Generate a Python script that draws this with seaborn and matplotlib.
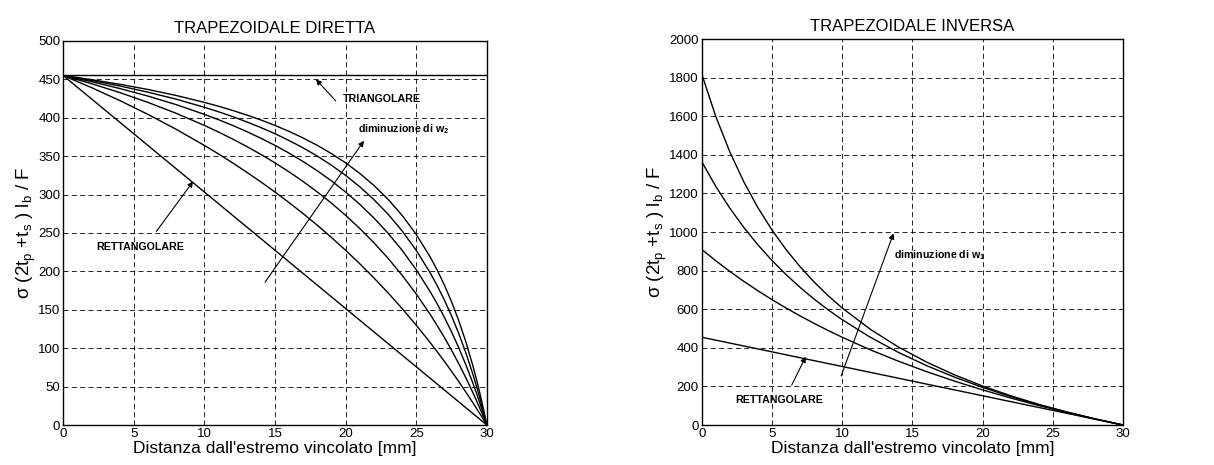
import numpy as np
import pandas as pd
import matplotlib
matplotlib.use("Agg")
import matplotlib.pyplot as plt
import seaborn as sns

# ---------------- data: left panel (TRAPEZOIDALE DIRETTA) ----------------
x_dir = [0, 2, 4, 6, 8, 10, 11, 12, 13, 14, 15, 16, 17, 18, 19, 20, 21, 22, 23, 24, 25, 26,
         26.5, 27, 27.5, 28, 28.5, 29, 29.25, 29.5, 29.75, 30]
dir_w2_a = [455, 449.6, 443.6, 436.8, 429.0, 420.0, 415.0, 409.5, 403.6, 397.1, 390.0, 382.2,
            373.6, 364.0, 353.3, 341.3, 327.6, 312.0, 294.0, 273.0, 248.2, 218.4,
            201.2, 182.0, 160.6, 136.5, 109.2, 78.0, 60.7, 42.0, 21.8, 0]
dir_w2_b = [455, 448.6, 441.4, 433.3, 424.2, 413.6, 407.8, 401.5, 394.6, 387.2, 379.2, 370.3,
            360.7, 350.0, 338.2, 325.0, 310.2, 293.5, 274.6, 252.8, 227.5, 197.8,
            181.0, 162.5, 142.2, 119.7, 94.8, 66.9, 51.7, 35.5, 18.3, 0]
dir_w2_c = [455, 447.0, 438.1, 428.2, 417.1, 404.4, 397.5, 390.0, 382.0, 373.3, 364.0, 353.9,
            342.9, 330.9, 317.8, 303.3, 287.4, 269.6, 249.8, 227.5, 202.2, 173.3,
            157.3, 140.0, 121.3, 101.1, 79.1, 55.2, 42.3, 28.9, 14.8, 0]
dir_w2_d = [455, 444.4, 432.8, 420.0, 405.8, 390.0, 381.4, 372.3, 362.6, 352.3, 341.3, 329.5,
            316.9, 303.3, 288.8, 273.0, 255.9, 237.4, 217.2, 195.0, 170.6, 143.7,
            129.1, 113.8, 97.5, 80.3, 62.0, 42.7, 32.5, 22.0, 11.2, 0]
dir_w2_e = [455, 439.3, 422.5, 404.4, 385.0, 364.0, 352.9, 341.3, 329.1, 316.5, 303.3, 289.5,
            275.1, 260.0, 244.1, 227.5, 210.0, 191.6, 172.2, 151.7, 130.0, 107.1,
            95.1, 82.7, 70.0, 56.9, 43.3, 29.4, 22.2, 14.9, 7.5, 0]
x_rett = [0, 30]
dir_rett = [455, 0]
x_tri = [0, 30]
dir_tri = [455, 455]

# ---------------- data: right panel (TRAPEZOIDALE INVERSA) ----------------
x_inv = [0, 1, 2, 3, 4, 5, 6, 7, 8, 9, 10, 12, 14, 16, 18, 20, 22, 24, 26, 28, 30]
inv_w1_a = [1820, 1599.4, 1415.6, 1260.0, 1126.7, 1011.1, 910.0, 820.8, 741.5, 670.5, 606.7,
            496.4, 404.4, 326.7, 260.0, 202.2, 151.7, 107.1, 67.4, 31.9, 0]
inv_w1_b = [1365, 1237.0, 1124.1, 1023.8, 933.9, 853.1, 780.0, 713.5, 652.8, 597.2, 546.0,
            455.0, 376.6, 308.2, 248.2, 195.0, 147.6, 105.0, 66.6, 31.7, 0]
inv_w1_c = [910, 851.3, 796.3, 744.5, 695.9, 650.0, 606.7, 565.7, 526.8, 490.0, 455.0,
            390.0, 330.9, 277.0, 227.5, 182.0, 140.0, 101.1, 65.0, 31.4, 0]
inv_rett = [455, 0]

# ---------------- text ----------------
title_left = "TRAPEZOIDALE DIRETTA"
title_right = "TRAPEZOIDALE INVERSA"
xlabel = "Distanza dall'estremo vincolato [mm]"
ylabel = "σ (2t$_{p}$ +t$_{s}$ ) l$_{b}$ / F"
xticks = [0, 5, 10, 15, 20, 25, 30]
yticks_left = [0, 50, 100, 150, 200, 250, 300, 350, 400, 450, 500]
yticks_right = [0, 200, 400, 600, 800, 1000, 1200, 1400, 1600, 1800, 2000]

sns.set_theme(style="white")
plt.rcParams["font.family"] = ["Liberation Sans", "DejaVu Sans"]
plt.rcParams["mathtext.default"] = "regular"

fig = plt.figure(figsize=(12.14, 4.65), dpi=100)
axL = fig.add_axes([0.052, 0.086, 0.349, 0.826])
axR = fig.add_axes([0.578, 0.086, 0.347, 0.830])

lw = 1.0


def draw(ax, x, y):
    df = pd.DataFrame({"x": x, "y": y})
    sns.lineplot(data=df, x="x", y="y", ax=ax, color="black", lw=lw,
                 estimator=None, sort=False)


for ser in [dir_w2_a, dir_w2_b, dir_w2_c, dir_w2_d, dir_w2_e]:
    draw(axL, x_dir, ser)
draw(axL, x_rett, dir_rett)
draw(axL, x_tri, dir_tri)

for ser in [inv_w1_a, inv_w1_b, inv_w1_c]:
    draw(axR, x_inv, ser)
draw(axR, x_rett, inv_rett)


def style(ax, yticks, title):
    ax.set_xlim(0, 30)
    ax.set_ylim(yticks[0], yticks[-1])
    ax.set_xticks(xticks)
    ax.set_yticks(yticks)
    ax.set_xticklabels([str(t) for t in xticks])
    ax.set_yticklabels([str(t) for t in yticks])
    ax.tick_params(axis="both", direction="in", length=4, width=0.8,
                   labelsize=9.5, colors="black", pad=2)
    ax.grid(True, color="black", linestyle=(0, (6, 4)), linewidth=0.6)
    for s in ax.spines.values():
        s.set_color("black")
        s.set_linewidth(1.0)
    ax.set_title(title, fontsize=12, color="black", pad=6)
    ax.set_xlabel(xlabel, fontsize=12.5, color="black", labelpad=1)
    ax.set_ylabel(ylabel, fontsize=13.5, color="black", labelpad=0)


style(axL, yticks_left, title_left)
style(axR, yticks_right, title_right)

ann_kw = dict(fontsize=7.7, fontweight="bold", color="black")
arrow_kw = dict(arrowstyle="-|>", color="black", lw=0.8, mutation_scale=8, shrinkA=0, shrinkB=0)

# left annotations
axL.annotate("", xy=(17.9, 450), xytext=(19.3, 422), arrowprops=arrow_kw)
axL.text(19.8, 425, "TRIANGOLARE", va="center", ha="left", **ann_kw)
axL.annotate("", xy=(21.3, 370), xytext=(14.3, 186), arrowprops=arrow_kw)
axL.text(20.9, 385, "diminuzione di w$_2$", va="center", ha="left", **ann_kw)
axL.annotate("", xy=(9.2, 317), xytext=(6.6, 252), arrowprops=arrow_kw)
axL.text(2.35, 232, "RETTANGOLARE", va="center", ha="left", **ann_kw)

# right annotations
axR.annotate("", xy=(13.66, 993), xytext=(9.93, 254), arrowprops=arrow_kw)
axR.text(13.66, 881, "diminuzione di w$_1$", va="center", ha="left", **ann_kw)
axR.annotate("", xy=(7.41, 354), xytext=(6.41, 207), arrowprops=arrow_kw)
axR.text(2.37, 130, "RETTANGOLARE", va="center", ha="left", **ann_kw)

fig.savefig("out.png", dpi=100, facecolor="white")
